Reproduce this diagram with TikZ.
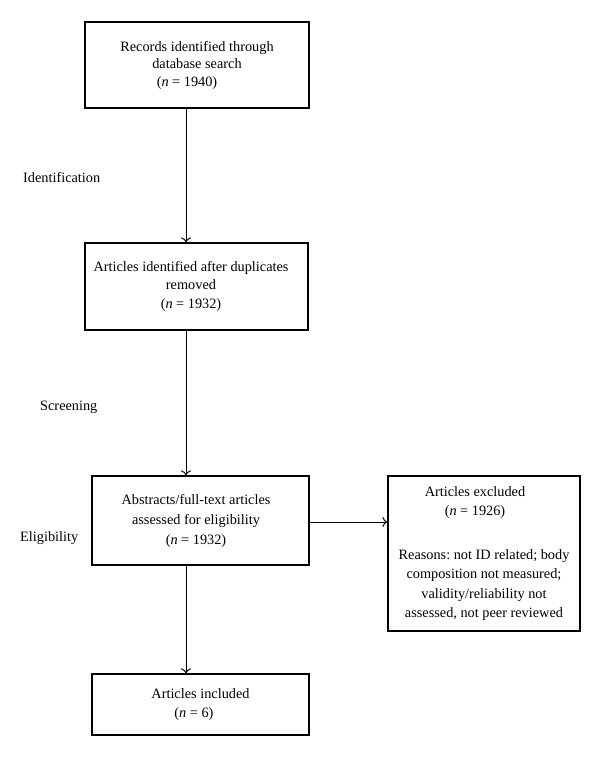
\documentclass[tikz,border=0pt]{standalone}
\usepackage{fontspec}
\setmainfont{Liberation Serif}
\usetikzlibrary{arrows.meta}
\frenchspacing
\begin{document}
\begin{tikzpicture}[x=1pt,y=-1pt,
  box/.style={draw, line width=1.2pt, align=center, inner sep=0pt, font=\fontsize{14.3}{19}\selectfont},
  lab/.style={anchor=west, inner sep=0pt, font=\fontsize{14.3}{17}\selectfont},
  conn/.style={line width=1pt, -{To[length=5pt,width=10pt]}}]
\useasboundingbox (0,0) rectangle (600,780);
\node[box, minimum width=224pt, minimum height=86pt, font=\fontsize{14.3}{17.5}\selectfont] (b1) at (197,65)
  {Records identified through\\database search\\\hspace*{-20pt}(\textit{n} = 1940)};
\node[box, minimum width=223pt, minimum height=87pt, font=\fontsize{14.3}{17.5}\selectfont] (b2) at (196.5,286.5)
  {\hspace*{-11pt}Articles identified after duplicates\\\hspace*{-11pt}removed\\[2pt]\hspace*{-11pt}(\textit{n} = 1932)};
\node[box, minimum width=217pt, minimum height=89pt, font=\fontsize{14.3}{20}\selectfont] (b3) at (200.5,520.5)
  {\hspace*{-9pt}Abstracts/full-text articles\\\hspace*{-9pt}assessed for eligibility\\\hspace*{-9pt}(\textit{n} = 1932)};
\node[box, minimum width=192pt, minimum height=155pt, font=\fontsize{14.3}{19.5}\selectfont] (b4) at (484,553.5)
  {\hspace*{-18pt}Articles excluded\\\hspace*{-18pt}(\textit{n} = 1926)\\[24pt]Reasons: not ID related; body\\composition not measured;\\validity/reliability not\\assessed, not peer reviewed};
\node[box, minimum width=217pt, minimum height=61pt] (b5) at (200.5,704.5)
  {Articles included\\\hspace*{-13pt}(\textit{n} = 6)};
\node[lab] (l1) at (23,178) {Identification};
\node[lab] (l2) at (40,407) {Screening};
\node[lab] (l3) at (20,538) {Eligibility};
\coordinate (ax) at (186,0);
\coordinate (hy) at (0,522);
\draw[conn] (b1.south -| ax) -- (b2.north -| ax);
\draw[conn] (b2.south -| ax) -- (b3.north -| ax);
\draw[conn] (b3.south -| ax) -- (b5.north -| ax);
\draw[conn] (b3.east |- hy) -- (b4.west |- hy);
\end{tikzpicture}
\end{document}
